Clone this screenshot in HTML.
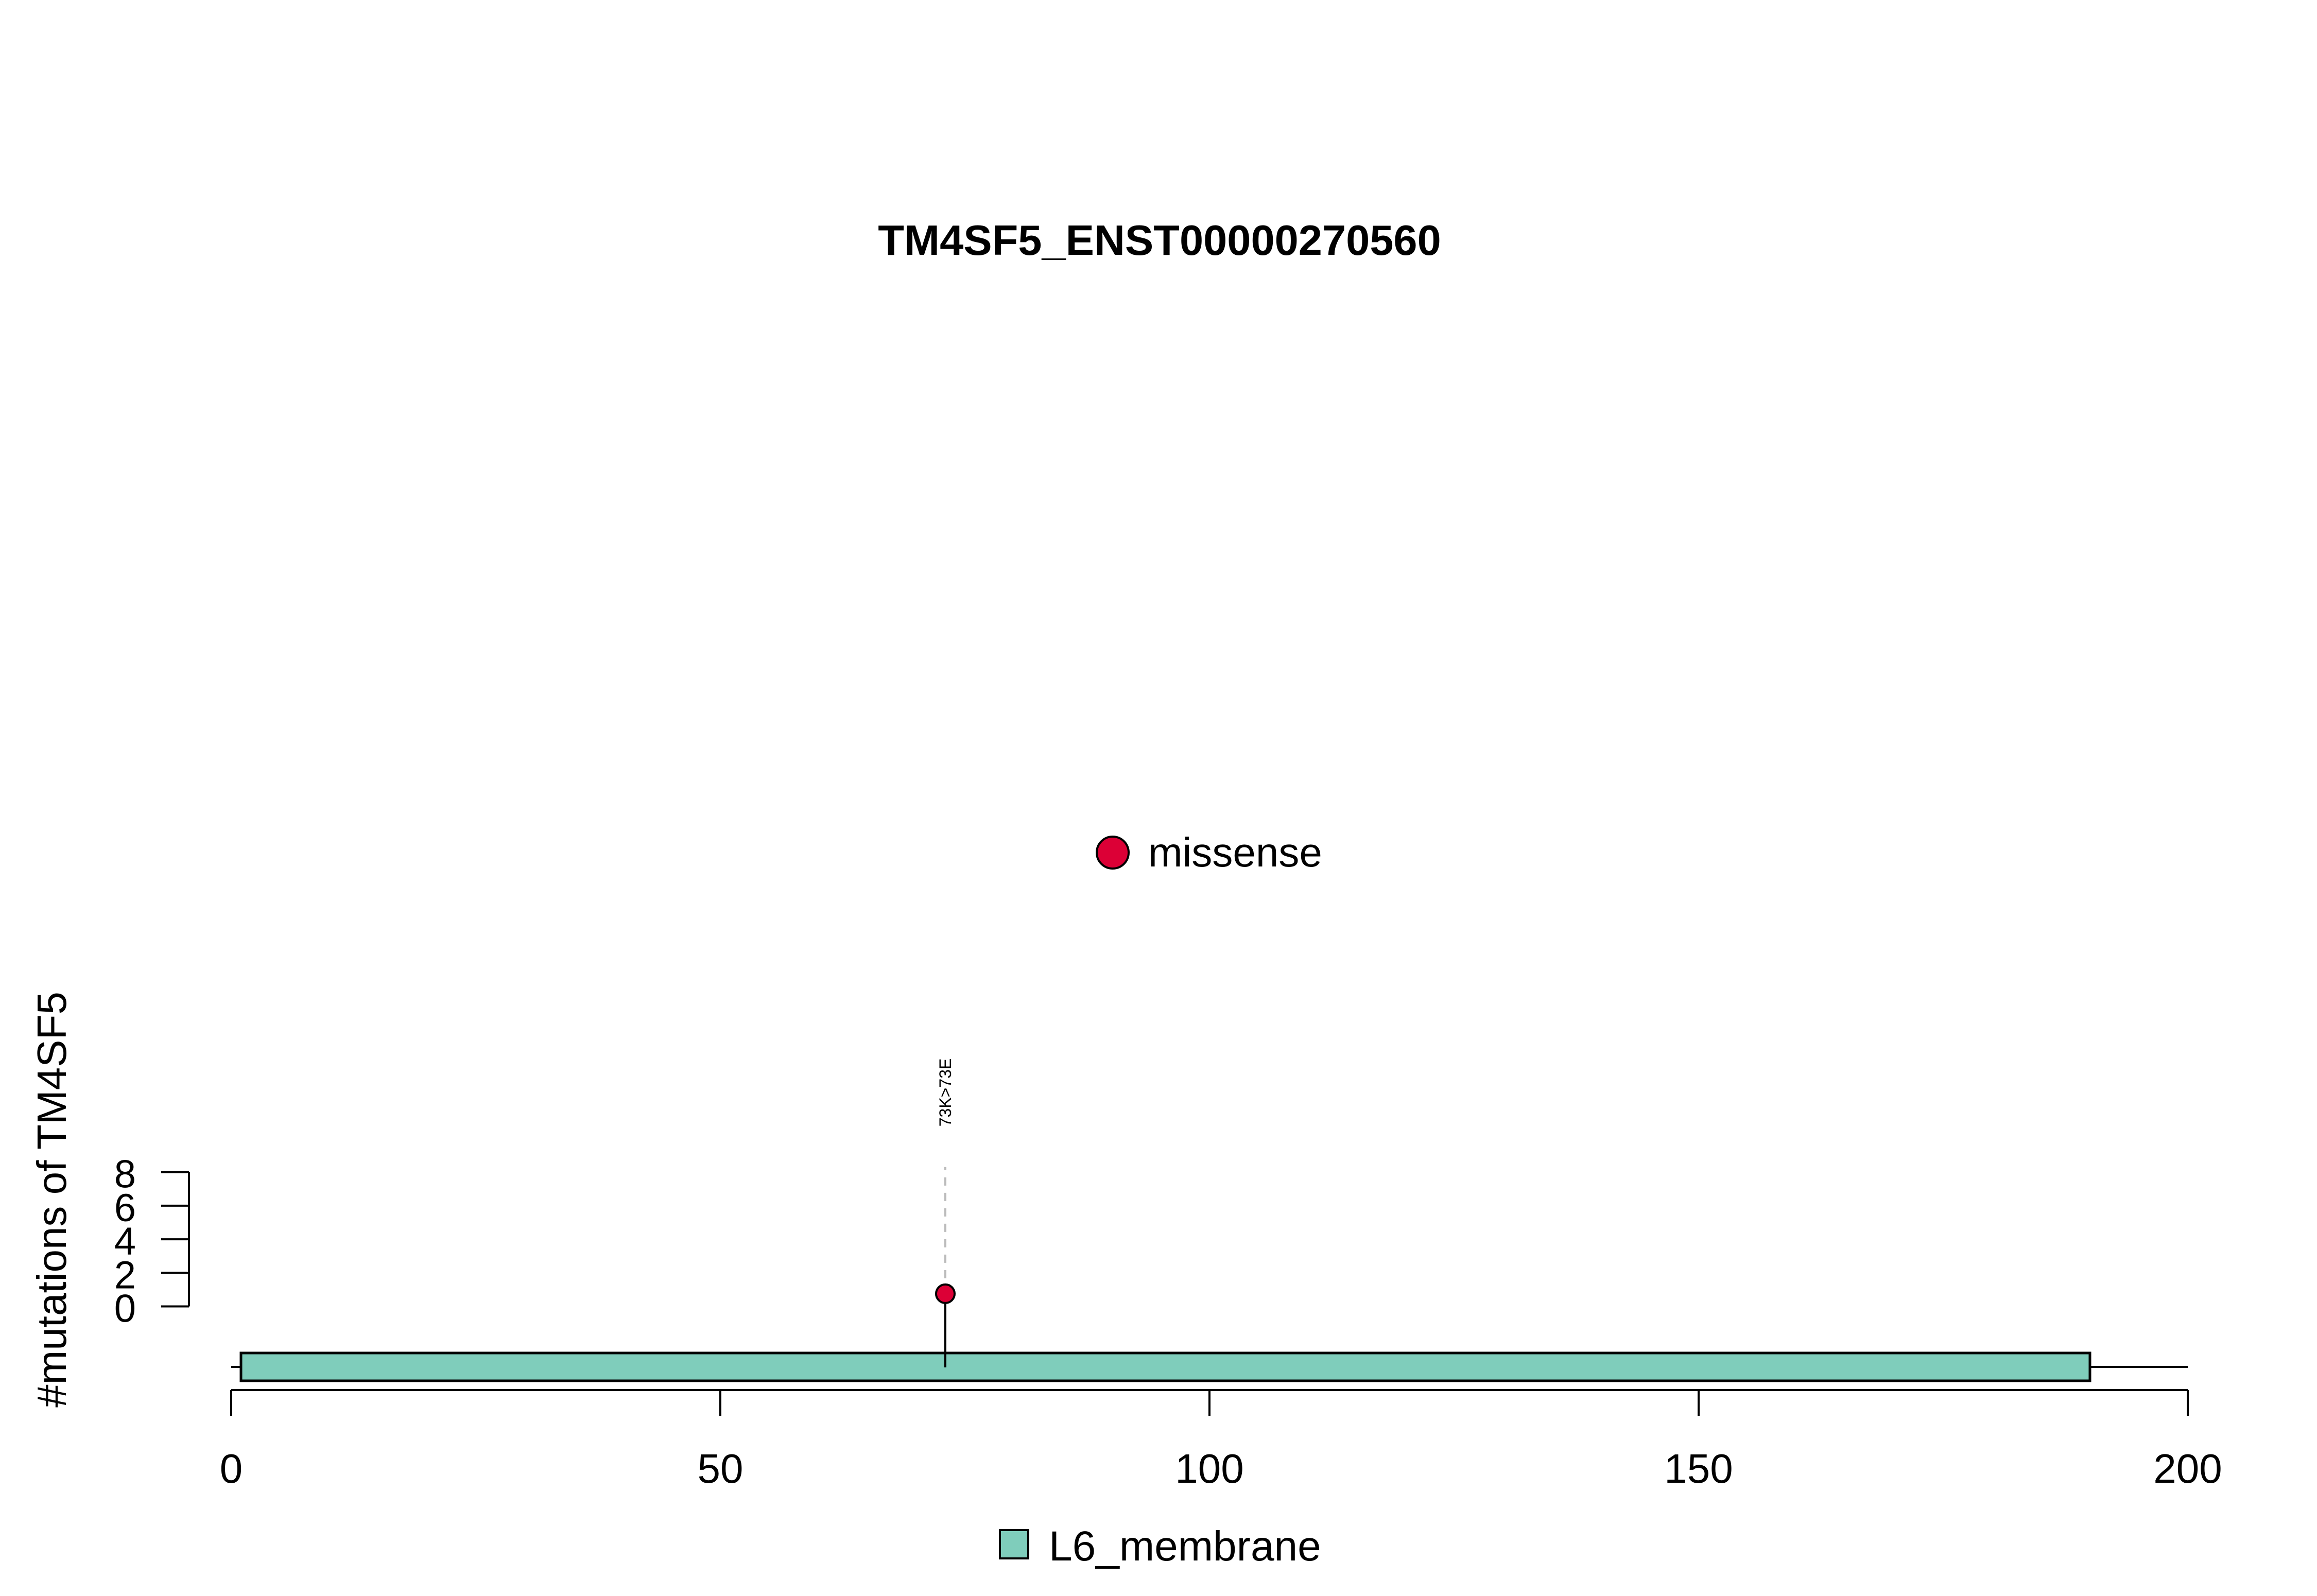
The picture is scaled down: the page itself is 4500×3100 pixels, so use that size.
<!DOCTYPE html>
<html><head><meta charset="utf-8"><style>
html,body{margin:0;padding:0;background:#fff;}
svg{display:block;font-family:"Liberation Sans",Arial,sans-serif;}
</style></head><body>
<svg id="chart" width="4500" height="3100" viewBox="0 0 4500 3100" xmlns="http://www.w3.org/2000/svg">
<rect width="4500" height="3100" fill="#fff"/>
<text x="2252" y="495" font-size="83" font-weight="bold" text-anchor="middle">TM4SF5_ENST00000270560</text>
<g id="legend-top">
<circle cx="2161" cy="1656" r="31" fill="#DC0036" stroke="#000" stroke-width="4"/>
<text x="2230" y="1683" font-size="80">missense</text>
</g>
<text transform="translate(128,2330) rotate(-90)" font-size="80" text-anchor="middle">#mutations of TM4SF5</text>
<g id="yaxis"></g>
<g id="xaxis"></g>
<g id="protein"></g>
<g id="marks"></g>
<g id="legend-bottom">
<rect x="1942" y="2972" width="55" height="55" fill="#7FCDBB" stroke="#000" stroke-width="4"/>
<text x="2037" y="3031" font-size="82">L6_membrane</text>
</g>
</svg>
<script>
const yTicks = [0, 2, 4, 6, 8];
const xTicks = [0, 50, 100, 150, 200];
const proteinLength = 200;
const domainNames = ["L6_membrane"];
const domainStarts = [1];
const domainEnds = [190];
const mutPositions = [73];
const mutCounts = [1];
const mutLabels = ["73K>73E"];

const NS = "http://www.w3.org/2000/svg";
function X(v){ return 449 + (v - 0) * 19.0; }
function Y(v){ return 2537.5 - v * 32.6; }
function mk(tag, attrs, parent){
  const e = document.createElementNS(NS, tag);
  for (const k in attrs) e.setAttribute(k, attrs[k]);
  parent.appendChild(e);
  return e;
}
const yaxis = document.getElementById('yaxis');
const xaxis = document.getElementById('xaxis');
const protein = document.getElementById('protein');
const marks = document.getElementById('marks');

let yl = mk('line', {x1:367, x2:367, y1:Y(yTicks[0]), y2:Y(yTicks[yTicks.length-1]), stroke:'#000','stroke-width':4}, yaxis);


yTicks.forEach(t => {
  const l = mk('line', {x1:313, x2:367, y1:Y(t), y2:Y(t), stroke:'#000','stroke-width':4}, yaxis);
  
  
  const tx = mk('text', {x:264, y:Y(t)+30, 'font-size':76, 'text-anchor':'end'}, yaxis);
  tx.textContent = t;
  
  
});

let xl = mk('line', {x1:X(xTicks[0]), x2:X(xTicks[xTicks.length-1]), y1:2700, y2:2700, stroke:'#000','stroke-width':4}, xaxis);


xTicks.forEach(t => {
  const l = mk('line', {x1:X(t), x2:X(t), y1:2700, y2:2750, stroke:'#000','stroke-width':4}, xaxis);
  
  
  const tx = mk('text', {x:X(t), y:2880, 'font-size':80, 'text-anchor':'middle'}, xaxis);
  tx.textContent = t;
  
  
});

const bb = mk('line', {x1:X(0), x2:X(proteinLength), y1:2655, y2:2655, stroke:'#000','stroke-width':4}, protein);


domainNames.forEach((n, i) => {
  const r = mk('rect', {x:X(domainStarts[i]), y:2628, width:X(domainEnds[i])-X(domainStarts[i]), height:54, fill:'#7FCDBB', stroke:'#000','stroke-width':5}, protein);
  
  
});

mutPositions.forEach((p, i) => {
  const x = X(p), y = Y(mutCounts[i]) + 8;
  const d = mk('line', {x1:x, x2:x, y1:y, y2:Y(yTicks[yTicks.length-1]) - 10, stroke:'#bbb','stroke-width':4,'stroke-dasharray':'16 14'}, marks);
  
  
  const s = mk('line', {x1:x, x2:x, y1:2656, y2:y, stroke:'#000','stroke-width':4}, marks);
  
  
  const c = mk('circle', {cx:x, cy:y, r:18, fill:'#DC0036', stroke:'#000','stroke-width':4}, marks);
  
  
  const t = mk('text', {transform:'translate(' + (x+11) + ',2122) rotate(-90)', 'font-size':32, 'text-anchor':'middle'}, marks);
  t.textContent = mutLabels[i];
  
  
});
</script>
</body></html>
